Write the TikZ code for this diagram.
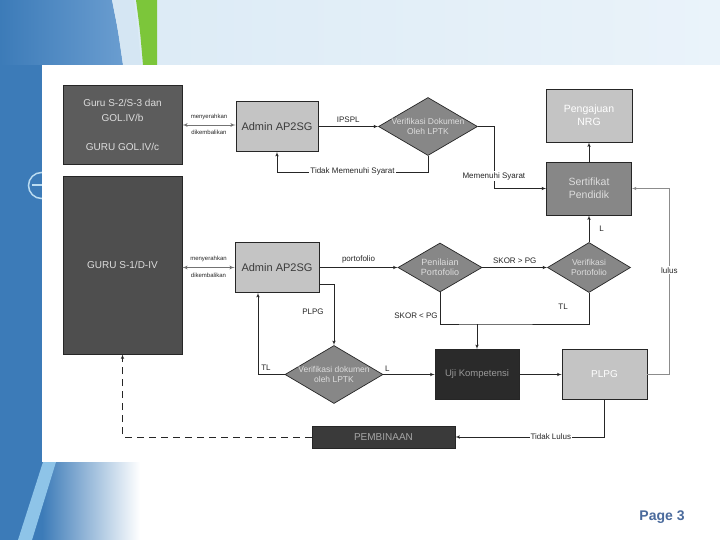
\documentclass[tikz,border=0pt]{standalone}
\usepackage{fontspec}
\setmainfont{Liberation Sans}
\usetikzlibrary{calc}
\usetikzlibrary{arrows}
\usetikzlibrary{shapes.geometric}
\usepackage{xcolor}
\definecolor{slideblue}{HTML}{3C7BB8}
\definecolor{slideblue2}{HTML}{6A9DD0}
\definecolor{skyband}{HTML}{8EC4E8}
\definecolor{paleband}{HTML}{D5E6F3}
\definecolor{leafgreen}{HTML}{7CC63A}
\definecolor{topsky}{HTML}{D9E9F5}
\definecolor{topsky2}{HTML}{EAF3FA}
\definecolor{pageblue}{HTML}{4A6A9C}
\definecolor{darkA}{HTML}{5C5C5C}
\definecolor{darkB}{HTML}{4E4E4E}
\definecolor{lightbox}{HTML}{C4C4C4}
\definecolor{midbox}{HTML}{878787}
\definecolor{blackbox}{HTML}{2A2A2A}
\definecolor{binabox}{HTML}{3A3A3A}
\definecolor{txtlight}{HTML}{DDDDDD}
\definecolor{txtdark}{HTML}{3A3A3A}

\begin{document}
\begin{tikzpicture}[x=1pt,y=-1pt,>=latex',
  box/.style={draw=black!85, line width=.7pt, inner sep=1pt, align=center},
  dia/.style={diamond, aspect=1.7, draw=black!85, line width=.7pt, inner sep=-7pt, align=center, fill=midbox, text=txtlight},
  lbl/.style={font=\fontsize{8}{9}\selectfont, text=black!85, inner sep=1pt},
  sml/.style={font=\fontsize{6}{7}\selectfont, text=black!85, inner sep=1pt},
  link/.style={draw=black!85, line width=.6pt},
  handover/.style={draw=black!55, line width=.8pt, <->},
]
\useasboundingbox (0,0) rectangle (720,540);
\fill[white] (0,0) rectangle (720,540);
\shade[left color=topsky, right color=topsky2] (0,0) rectangle (720,65);
\fill[slideblue] (0,0) rectangle (42,540);
\shade[left color=slideblue, right color=slideblue2] (0,0) -- (112,0) .. controls (118,30) .. (123,65) -- (0,65) -- cycle;
\fill[paleband] (112,0) -- (134,0) .. controls (138,30) .. (141,65) -- (123,65) .. controls (118,30) .. (112,0);
\fill[leafgreen] (136,0) -- (157,0) -- (157,65) -- (143,65) .. controls (140,30) .. (136,0);
\shade[left color=slideblue, right color=white] (42,462) rectangle (140,540);
\fill[skyband] (43,462) -- (56,462) -- (32,540) -- (18,540) -- cycle;
\draw[skyband!60!white, line width=1.5pt] (41.5,185.5) circle (13);
\draw[skyband!60!white, line width=2pt] (32,185.5) -- (44,185.5);
\fill[white] (42,65) rectangle (720,462);

\node[box, fill=darkA, text=txtlight, minimum width=119pt, minimum height=79pt, font=\fontsize{10}{15}\selectfont] (guruA) at (122.5,125) {Guru S-2/S-3 dan\\GOL.IV/b\\[14pt]GURU GOL.IV/c};
\node[box, fill=darkB, text=txtlight, minimum width=119pt, minimum height=178pt, font=\fontsize{10}{12}\selectfont] (guruB) at (122.5,265) {GURU S-1/D-IV};
\node[box, fill=lightbox, text=txtdark, minimum width=82pt, minimum height=50pt, font=\fontsize{11}{13}\selectfont] (admA) at (277,126.5) {Admin AP2SG};
\node[box, fill=lightbox, text=txtdark, minimum width=84pt, minimum height=50pt, font=\fontsize{11}{13}\selectfont] (admB) at (277,267.5) {Admin AP2SG};
\node[dia, minimum width=99pt, minimum height=58pt, font=\fontsize{8.5}{10}\selectfont] (verA) at (428,126.5) {Verifikasi Dokumen\\Oleh LPTK};
\node[box, fill=lightbox, text=white, minimum width=86pt, minimum height=53pt, font=\fontsize{10.5}{13}\selectfont] (nrg) at (589,115.5) {Pengajuan\\NRG};
\node[box, fill=midbox, text=txtlight, minimum width=85pt, minimum height=53pt, font=\fontsize{10.5}{13}\selectfont] (sert) at (589,188.5) {Sertifikat\\Pendidik};
\node[dia, minimum width=84pt, minimum height=49pt, font=\fontsize{9}{10.5}\selectfont] (nilai) at (440,267.5) {Penilaian\\Portofolio};
\node[dia, minimum width=83pt, minimum height=50pt, font=\fontsize{8.5}{10}\selectfont] (verP) at (589,267.5) {Verifikasi\\Portofolio};
\node[dia, minimum width=98pt, minimum height=58pt, font=\fontsize{8.5}{10}\selectfont] (verB) at (334,374.5) {Verifikasi dokumen\\oleh LPTK};
\node[box, fill=blackbox, text=black!40, minimum width=84pt, minimum height=50pt, font=\fontsize{9.5}{11}\selectfont] (uji) at (477,374.5) {Uji Kompetensi};
\node[box, fill=lightbox, text=white, minimum width=85pt, minimum height=50pt, font=\fontsize{10}{12}\selectfont] (plpg) at (604.5,374.5) {PLPG};
\node[box, fill=binabox, text=black!35, minimum width=143pt, minimum height=22pt, font=\fontsize{10}{12}\selectfont] (bina) at (383.5,437) {PEMBINAAN};
\node[font=\bfseries\fontsize{14}{16}\selectfont, text=pageblue] (pg) at (662,517) {Page 3};

\draw[handover] (guruA.east) -- node[sml, above=4pt]{menyerahkan} node[sml, below=4pt]{dikembalikan} (guruA.east -| admA.west);
\draw[handover] (guruB.east |- admB) -- node[sml, above=4pt]{menyerahkan} node[sml, below=4pt]{dikembalikan} (admB.west);
\draw[link,->] (admA) -- node[lbl, above=3pt]{IPSPL} (verA);
\draw[link,->] (verA.south) -- ++(0,16) -| node[lbl, fill=white, pos=.25]{Tidak Memenuhi Syarat} (admA.south);
\draw[link,->] (verA.east) -- ++(16,0) |- node[lbl, fill=white, pos=.4]{Memenuhi Syarat} (sert.west);
\draw[link,->] (sert) -- (nrg);
\draw[link,->] (verP) -- node[lbl, right=9pt]{L} (sert);
\draw[link,->] (admB) -- node[lbl, above=3pt]{portofolio} (nilai);
\draw[link,->] (nilai) -- node[lbl, above=3pt]{SKOR > PG} (verP);
\coordinate (jn) at (477,324);
\draw[link] (nilai.south) |- node[lbl, left=1pt, pos=.375]{SKOR < PG} (jn) -- (verP.south |- jn) -- node[lbl, left=20pt, pos=.55]{TL} (verP.south);
\draw[link,->] (jn) -- (uji);
\draw[link,->] ([yshift=9pt]admB.south east) -| node[lbl, left=9pt, pos=.73]{PLPG} (verB.north);
\draw[link,->] (verB.west) -| node[lbl, above=3pt, pos=.35]{TL} ([xshift=-19pt]admB.south);
\draw[link,->] (verB) -- node[lbl, above=2pt, pos=.08]{L} (uji);
\draw[link,->] (uji) -- (plpg);
\draw[link,->] (plpg.south) |- node[lbl, fill=white, pos=.68]{Tidak Lulus} (bina.east);
\draw[link, dash pattern=on 7pt off 5pt, ->] (bina.west) -| (guruB.south);
\draw[link, draw=black!45, ->] (plpg.east) -- ++(22,0) |- node[lbl, fill=white, pos=.28]{lulus} (sert.east);
\end{tikzpicture}
\end{document}
